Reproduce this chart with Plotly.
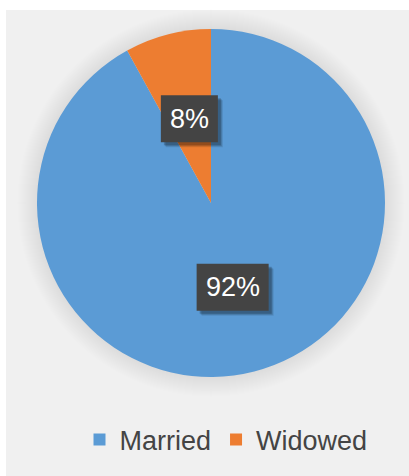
import math
import plotly.graph_objects as go

labels = ["Married", "Widowed"]
values = [92, 8]
colors = ["#5B9BD5", "#ED7D31"]

W, H = 409, 476
ml, mr, mt, mb = 37, 24, 29, 99
pw = W - ml - mr
ph = H - mt - mb
FONT = "Liberation Sans, Arial, sans-serif"
LSIZE = 27

fig = go.Figure(go.Pie(
    labels=labels, values=values, sort=False, direction="clockwise", rotation=0,
    marker=dict(colors=colors, line=dict(width=0)),
    textinfo="none", hoverinfo="label+percent", showlegend=True,
))

shapes = []
# white margin at the left and top (outside the grey panel)
shapes.append(dict(type="rect", xref="paper", yref="paper", layer="below",
                   x0=-ml / pw, x1=(6 - ml) / pw, y0=-mb / ph, y1=1 + mt / ph,
                   fillcolor="white", line=dict(width=0)))
shapes.append(dict(type="rect", xref="paper", yref="paper", layer="below",
                   x0=-ml / pw, x1=1 + mr / pw, y0=1 + (mt - 10) / ph, y1=1 + mt / ph,
                   fillcolor="white", line=dict(width=0)))
# soft glow around the pie
for d in range(20, 0, -1):
    shapes.append(dict(type="circle", xref="paper", yref="paper", layer="below",
                       x0=-d / pw, x1=1 + d / pw, y0=-d / ph, y1=1 + d / ph,
                       fillcolor="rgba(0,0,0,0.0055)", line=dict(width=0)))

annotations = []
total = sum(values)
cum = 0
for lab, v in zip(labels, values):
    theta = 2 * math.pi * (cum + v / 2) / total
    cum += v
    x = 0.5 + 0.25 * math.sin(theta)
    y = 0.5 + 0.25 * math.cos(theta)
    txt = f"{round(100 * v / total)}%"
    bw = 18 + 0.556 * LSIZE * (len(txt) - 1) + 0.889 * LSIZE
    bh = 47
    # shadow
    for off, a in [(5, 0.10), (4, 0.14), (3, 0.2)]:
        shapes.append(dict(type="rect", xref="paper", yref="paper", layer="above",
                           xsizemode="pixel", ysizemode="pixel", xanchor=x, yanchor=y,
                           x0=-bw / 2 + off, x1=bw / 2 + off, y0=-bh / 2 - off, y1=bh / 2 - off,
                           fillcolor=f"rgba(0,0,0,{a})", line=dict(width=0)))
    shapes.append(dict(type="rect", xref="paper", yref="paper", layer="above",
                       xsizemode="pixel", ysizemode="pixel", xanchor=x, yanchor=y,
                       x0=-bw / 2, x1=bw / 2, y0=-bh / 2, y1=bh / 2,
                       fillcolor="#444444", line=dict(width=0)))
    annotations.append(dict(xref="paper", yref="paper", x=x, y=y, showarrow=False,
                            xanchor="center", yanchor="middle",
                            text=txt, font=dict(family=FONT, size=LSIZE, color="white")))

fig.update_layout(
    width=W, height=H,
    margin=dict(l=ml, r=mr, t=mt, b=mb, autoexpand=False),
    paper_bgcolor="#F0F0F0", plot_bgcolor="#F0F0F0",
    shapes=shapes, annotations=annotations,
    legend=dict(orientation="h", x=(226 - ml) / pw, xanchor="center",
                y=-(440 - (mt + ph)) / ph, yanchor="middle",
                font=dict(family=FONT, size=27, color="#444444"),
                itemwidth=30, bgcolor="rgba(0,0,0,0)"),
)

fig.write_html("out.html", config={"displayModeBar": False},
               post_script="document.body.style.margin='0';document.body.style.overflow='hidden';")
